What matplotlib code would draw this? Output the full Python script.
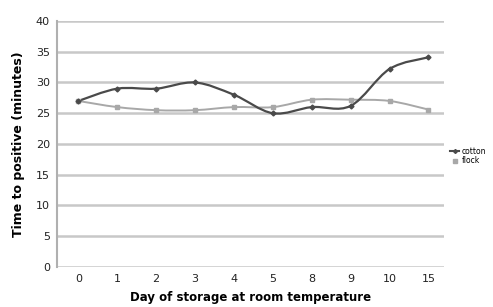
import matplotlib
matplotlib.use("Agg")
import matplotlib.pyplot as plt
from matplotlib.path import Path
from matplotlib.patches import PathPatch
from matplotlib.lines import Line2D
import numpy as np

days = ["0", "1", "2", "3", "4", "5", "8", "9", "10", "15"]
cotton = [27, 29, 29, 30, 28, 25, 26, 26.2, 32.2, 34.1]
flock = [27, 26, 25.5, 25.5, 26, 26, 27.2, 27.2, 27, 25.6]
yticks = [0, 5, 10, 15, 20, 25, 30, 35, 40]

def smooth_path(xs, ys, t=1/6):
    verts = [(xs[0], ys[0])]
    codes = [Path.MOVETO]
    n = len(xs)
    for i in range(n - 1):
        p0 = (xs[max(i - 1, 0)], ys[max(i - 1, 0)])
        p1 = (xs[i], ys[i])
        p2 = (xs[i + 1], ys[i + 1])
        p3 = (xs[min(i + 2, n - 1)], ys[min(i + 2, n - 1)])
        c1 = (p1[0] + (p2[0] - p0[0]) * t, p1[1] + (p2[1] - p0[1]) * t)
        c2 = (p2[0] - (p3[0] - p1[0]) * t, p2[1] - (p3[1] - p1[1]) * t)
        verts += [c1, c2, p2]
        codes += [Path.CURVE4] * 3
    return Path(verts, codes)

fig = plt.figure(figsize=(4.93, 3.07), dpi=100)
ax = fig.add_axes([0.1156, 0.1303, 0.785, 0.8013])

x = np.arange(len(days))
for s, col, lw, mk, ms in [(flock, "#a8a8a8", 1.4, "s", 2.5), (cotton, "#4a4a4a", 1.6, "D", 2.5)]:
    ax.add_patch(PathPatch(smooth_path(x, s), facecolor="none", edgecolor=col, lw=lw, zorder=3))
    ax.plot(x, s, linestyle="none", marker=mk, ms=ms, color=col, zorder=4)

ax.set_xlim(-0.55, 9.4)
ax.set_ylim(0, 40)
ax.set_yticks(yticks)
ax.set_xticks(x)
ax.set_xticklabels(days)
ax.grid(axis="y", color="#c8c8c8", lw=1.8)
ax.set_axisbelow(True)
for sp in ["top", "right", "bottom"]:
    ax.spines[sp].set_visible(False)
ax.spines["left"].set_color("#b0b0b0")
ax.spines["left"].set_linewidth(1.5)
ax.tick_params(axis="both", length=0, labelsize=8, colors="#222222", pad=5)
ax.tick_params(axis="y", pad=5)

ax.set_ylabel("Time to positive (minutes)", fontsize=9, fontweight="bold", labelpad=8)
ax.set_xlabel("Day of storage at room temperature", fontsize=8.5, fontweight="bold", labelpad=5)

handles = [Line2D([], [], color="#4a4a4a", lw=1.5, marker="D", ms=2),
           Line2D([], [], color="#a8a8a8", lw=0, marker="s", ms=2.5)]
fig.legend(handles, ["cotton", "flock"], loc="upper left", bbox_to_anchor=(0.905, 0.535),
           frameon=False, fontsize=5.5, handlelength=1.2, handletextpad=0.3,
           labelspacing=0.1, borderpad=0)

fig.savefig("out.png", dpi=100)
